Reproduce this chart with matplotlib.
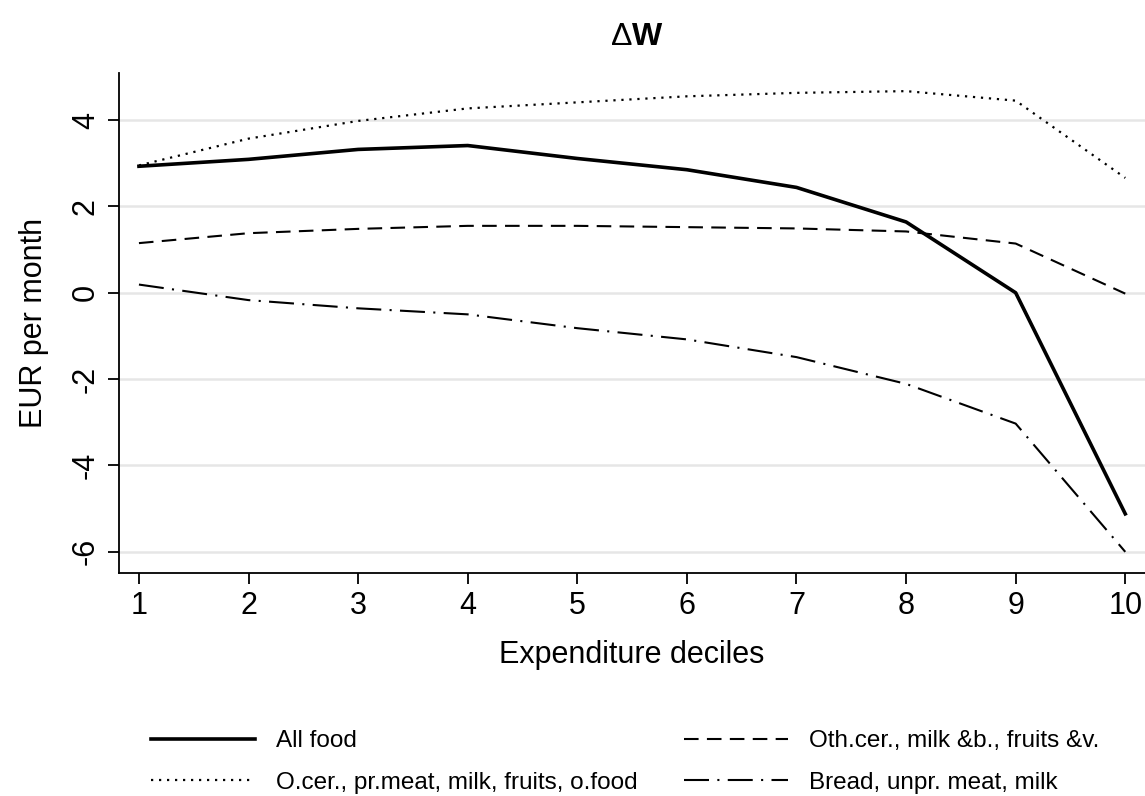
import numpy as np
import matplotlib.pyplot as plt

plt.rcParams['font.family'] = ['Liberation Sans', 'DejaVu Sans']

deciles = np.arange(1, 11)
all_food = [2.93, 3.09, 3.32, 3.41, 3.11, 2.85, 2.44, 1.64, 0.0, -5.12]
ocer_prmeat = [2.95, 3.57, 3.98, 4.27, 4.41, 4.55, 4.63, 4.67, 4.45, 2.66]
othcer_milk = [1.15, 1.38, 1.48, 1.55, 1.55, 1.52, 1.49, 1.42, 1.14, -0.02]
bread_unpr = [0.19, -0.17, -0.36, -0.50, -0.82, -1.08, -1.49, -2.11, -3.03, -6.0]

labels = ['All food', 'O.cer., pr.meat, milk, fruits, o.food',
          'Oth.cer., milk &b., fruits &v.', 'Bread, unpr. meat, milk']
yticks = [-6, -4, -2, 0, 2, 4]

W, H = 1145, 796
fig = plt.figure(figsize=(W/100, H/100), dpi=100)
ax = fig.add_axes([119/W, 1 - 573/H, (W-119)/W, (573-73)/H])

ax.plot(deciles, all_food, color='black', lw=2.6, label=labels[0])
ax.plot(deciles, ocer_prmeat, color='black', lw=1.6, ls=(0, (1, 2.6)), label=labels[1])
ax.plot(deciles, othcer_milk, color='black', lw=1.5, ls=(0, (7, 4)), label=labels[2])
ax.plot(deciles, bread_unpr, color='black', lw=1.5, ls=(0, (12, 4, 1, 4)), label=labels[3])

ax.set_xlim(0.818, 10.18)
ax.set_ylim(-6.49, 5.09)
ax.set_xticks(deciles)
ax.set_yticks(yticks)
ax.set_yticklabels([str(v) for v in yticks], rotation=90, va='center')
ax.tick_params(labelsize=22, length=8, width=1.3, color='black', pad=5)
ax.grid(axis='y', color='#e6e6e6', lw=1.8)
ax.set_axisbelow(True)
for s in ['top', 'right']:
    ax.spines[s].set_visible(False)
for s in ['left', 'bottom']:
    ax.spines[s].set_linewidth(1.3)

ax.set_xlabel('Expenditure deciles', fontsize=22, labelpad=14)
ax.set_ylabel('EUR per month', fontsize=22, labelpad=16)
fig.text(632/W, 1 - 37/H, 'Δ', fontsize=23, ha='right', va='center')
fig.text(632/W, 1 - 37/H, 'W', fontsize=23, fontweight='bold', ha='left', va='center')

h, l = ax.get_legend_handles_labels()
fig.legend(h, l, ncol=2, frameon=False, fontsize=17.5, loc='center',
           bbox_to_anchor=(625/W, 1 - 762/H), handlelength=4.3, handletextpad=0.85,
           columnspacing=1.9, labelspacing=0.8)

fig.savefig('out.png', dpi=100)
